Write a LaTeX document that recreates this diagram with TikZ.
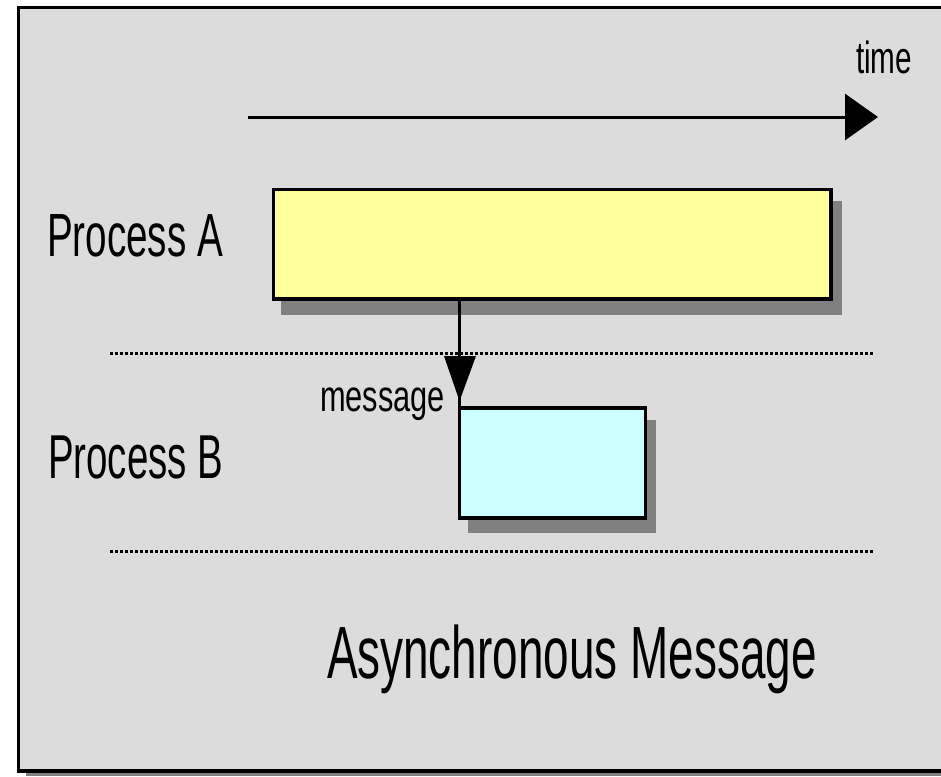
\documentclass[tikz,border=0pt]{standalone}
\usepackage{fontspec}
\usepackage{graphicx}
\newfontfamily\lbl{Liberation Sans}
\usetikzlibrary{arrows.meta}
\definecolor{panelgray}{RGB}{220,220,220}
\definecolor{shadowgray}{RGB}{128,128,128}
\definecolor{boxyellow}{RGB}{255,255,153}
\definecolor{boxcyan}{RGB}{204,255,255}
\tikzset{
  txt/.style={anchor=base west, inner sep=0pt, outer sep=0pt, text=black},
  procbox/.style={draw=black, line width=3.5pt, inner sep=0pt, outer sep=0pt, anchor=north west},
  shadow/.style={fill=shadowgray, draw=none},
  sep/.style={line width=3pt, dash pattern=on 3pt off 2pt},
  conn/.style={line width=3pt, draw=black},
}
\begin{document}
\begin{tikzpicture}[x=1pt,y=-1pt]
\useasboundingbox (0,0) rectangle (941,776);
% panel
\fill[shadowgray] (26,772) rectangle (945,776);
\draw[line width=3.5pt, fill=panelgray] (18.5,7.5) rectangle (950,771);
% shadows
\fill[shadow] (281,201) rectangle (842,315);
\fill[shadow] (468,420) rectangle (656,533);
% boxes
\node[procbox, fill=boxyellow, minimum width=557.5pt, minimum height=109.5pt] (A) at (273.5,189.5) {};
\node[procbox, fill=boxcyan, minimum width=186pt, minimum height=110pt] (B) at (459.5,408) {};
% separators
\coordinate (s1l) at (110,353); \coordinate (s1r) at (873,353);
\coordinate (s2l) at (110,551); \coordinate (s2r) at (873,551);
\draw[sep] (s1l) -- (s1r);
\draw[sep] (s2l) -- (s2r);
% message arrow
\draw[conn] (A.south west -| B.north west) -- (B.north west);
\fill (444,356) -- (476,356) -- (459.5,401) -- cycle;
% time arrow
\coordinate (t0) at (248,117);
\coordinate (t1) at (878,117);
\draw[line width=3pt, -{Triangle[length=33pt,width=46pt]}] (t0) -- (t1);
% texts
\node[txt] (time) at (856,73) {\lbl\fontsize{45}{45}\selectfont\scalebox{0.66}[1]{time}};
\node[txt] (pa) at (47,256) {\lbl\fontsize{61}{61}\selectfont\scalebox{0.633}[1]{Process A}};
\node[txt] (pb) at (48,478) {\lbl\fontsize{62}{62}\selectfont\scalebox{0.62}[1]{Process B}};
\node[txt] (msg) at (320,411) {\lbl\fontsize{44}{44}\selectfont\scalebox{0.70}[1]{message}};
\node[txt] (title) at (327,678) {\lbl\fontsize{74}{74}\selectfont\scalebox{0.62}[1]{Asynchronous Message}};
\end{tikzpicture}
\end{document}
